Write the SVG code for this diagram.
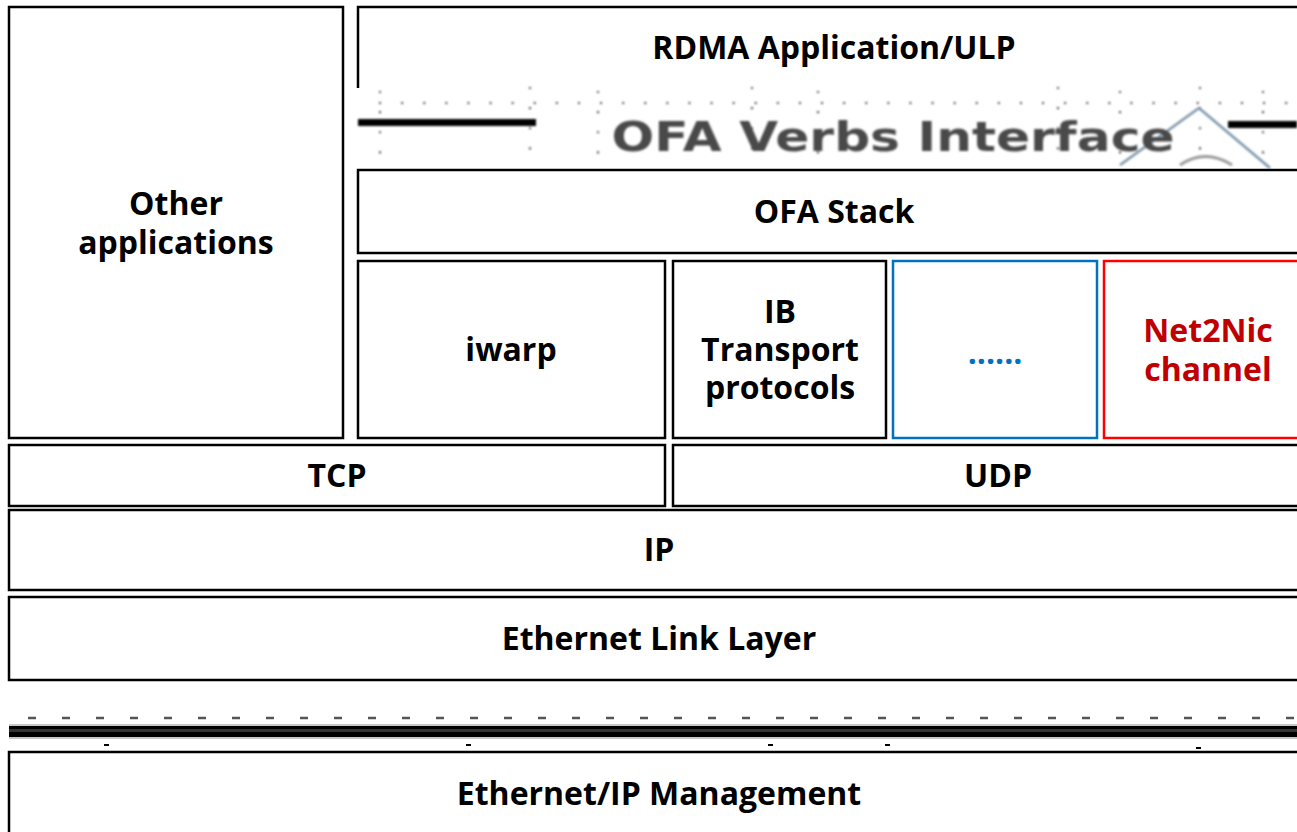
<svg xmlns="http://www.w3.org/2000/svg" width="1297" height="832" viewBox="0 0 1297 832">
  <style>
    .box { fill: #ffffff; stroke: #000000; stroke-width: 2.5; }
    .lbl { font-family: "Open Sans", "Noto Sans", sans-serif; font-weight: bold; font-size: 32px; fill: #000000; text-anchor: middle; }
    .dots { stroke: #222222; stroke-width: 2; stroke-linecap: round; fill: none; }
  </style>
  <defs>
    <filter id="soft" x="-5%" y="-20%" width="110%" height="140%">
      <feGaussianBlur stdDeviation="0.9"/>
    </filter>
  </defs>
  <rect width="1297" height="832" fill="#ffffff"/>

  <g id="other-applications">
    <rect class="box" x="9" y="7" width="334" height="431"/>
    <text class="lbl" x="176" y="215">Other</text>
    <text class="lbl" x="176" y="254">applications</text>
  </g>

  <g id="rdma-application">
    <path d="M358,88 V7 H1300" fill="none" stroke="#000" stroke-width="2.5"/>
    <text class="lbl" x="834" y="59">RDMA Application/ULP</text>
  </g>

  <!-- verbs interface banner -->
  <g id="ofa-verbs-interface" filter="url(#soft)">
    <path class="dots" stroke-dasharray="0.1 22" d="M380,103 H1297"/>
    <path class="dots" stroke-dasharray="0.1 20" d="M380,92 V165 M530,88 V165 M598,92 V165 M752,88 V165 M818,92 V165 M1058,88 V165 M1120,92 V165 M1200,88 V165 M1263,92 V165"/>
    <rect x="358" y="119" width="178" height="7" fill="#000"/>
    <rect x="1228" y="121" width="69" height="7" fill="#000"/>
    <path d="M1120,165 L1199,108 L1270,168" fill="none" stroke="#7a93a8" stroke-width="2.5"/>
    <path d="M1180,165 Q1205,148 1232,165" fill="none" stroke="#999" stroke-width="3"/>
    <text x="893" y="151" font-family="'DejaVu Sans', 'Liberation Sans', sans-serif" font-weight="bold" font-size="41" fill="#4a4a4a" text-anchor="middle" textLength="563" lengthAdjust="spacingAndGlyphs">OFA Verbs Interface</text>
  </g>

  <g id="ofa-stack">
    <rect class="box" x="358" y="170" width="945" height="83"/>
    <text class="lbl" x="834" y="223">OFA Stack</text>
  </g>

  <g id="iwarp">
    <rect class="box" x="358" y="261" width="307" height="177"/>
    <text class="lbl" x="511" y="361">iwarp</text>
  </g>

  <g id="ib-transport">
    <rect class="box" x="673" y="261" width="213" height="177"/>
    <text class="lbl" x="780" y="323">IB</text>
    <text class="lbl" x="780" y="361">Transport</text>
    <text class="lbl" x="780" y="399">protocols</text>
  </g>

  <g id="other-transport">
    <rect x="893" y="261" width="204" height="177" fill="#fff" stroke="#0070c0" stroke-width="2.5"/>
    <text class="lbl" x="995" y="364" style="fill:#0070c0">......</text>
  </g>

  <g id="net2nic-channel">
    <rect x="1104" y="261" width="200" height="177" fill="#fff" stroke="#ff0000" stroke-width="2.5"/>
    <text class="lbl" x="1208" y="342" style="fill:#c00000">Net2Nic</text>
    <text class="lbl" x="1208" y="381" style="fill:#c00000">channel</text>
  </g>

  <g id="tcp">
    <rect class="box" x="9" y="445" width="656" height="61"/>
    <text class="lbl" x="337" y="487">TCP</text>
  </g>

  <g id="udp">
    <rect class="box" x="673" y="445" width="630" height="61"/>
    <text class="lbl" x="998" y="487">UDP</text>
  </g>

  <g id="ip">
    <rect class="box" x="9" y="510" width="1294" height="80"/>
    <text class="lbl" x="659" y="561">IP</text>
  </g>

  <g id="ethernet-link-layer">
    <rect class="box" x="9" y="597" width="1294" height="83"/>
    <text class="lbl" x="659" y="650">Ethernet Link Layer</text>
  </g>

  <!-- management interface separator -->
  <g id="management-separator">
    <path d="M28,718 H1297" stroke="#555" stroke-width="2.5" stroke-dasharray="8 26" fill="none"/>
    <rect x="9" y="724" width="1288" height="15" fill="#c8c8c8"/>
    <rect x="9" y="726" width="1288" height="11" fill="#000"/>
    <rect x="9" y="729" width="1288" height="3" fill="#333"/>
    <path d="M104,745 h5 M466,745 h5 M768,745 h5 M885,745 h5 M1196,748 h5" stroke="#000" stroke-width="2"/>
  </g>

  <g id="ethernet-ip-management">
    <rect class="box" x="9" y="752" width="1294" height="90"/>
    <text class="lbl" x="659" y="805">Ethernet/IP Management</text>
  </g>
</svg>
